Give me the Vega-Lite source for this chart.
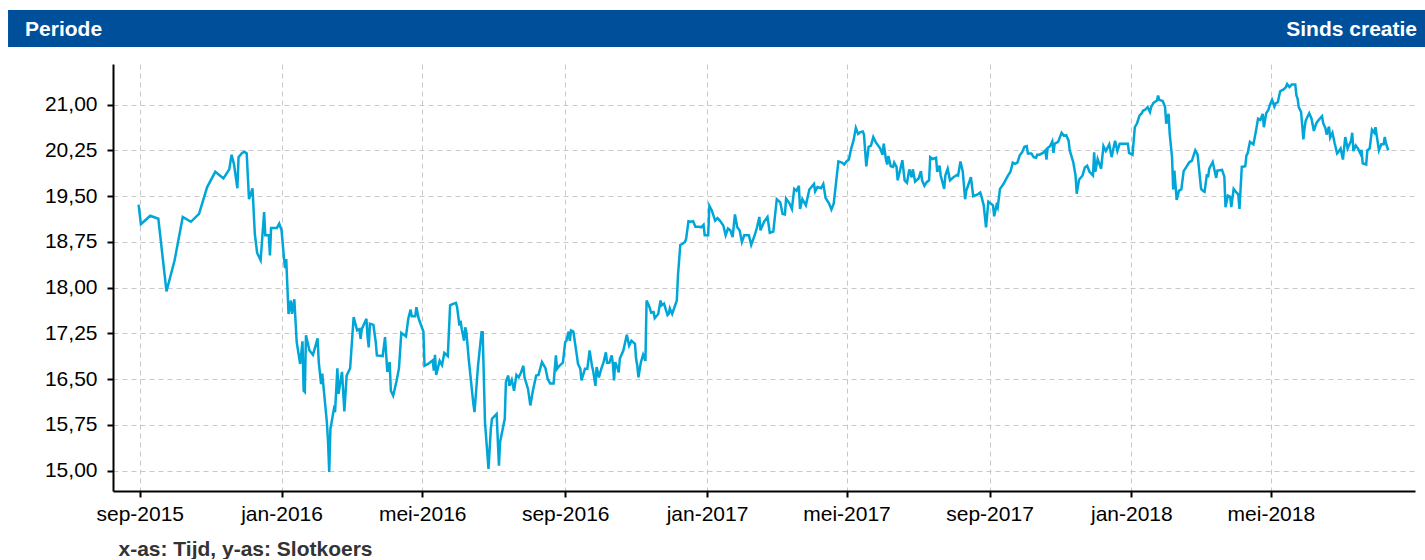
{
"$schema": "https://vega.github.io/schema/vega-lite/v6.json",
"padding": {"left": 8, "top": 10, "right": 0, "bottom": 0},
"spacing": 17,
"background": "white",
"config": {"view": {"stroke": null}, "font": "Liberation Sans"},
"vconcat": [
{
"width": 1312, "height": 37,
"view": {"stroke": null},
"data": {"values": [{"x0": -0.08, "x1": 1, "t1": "Periode", "t2": "Sinds creatie"}]},
"layer": [
{"mark": {"type": "rect", "fill": "#004f9b", "clip": false},
 "encoding": {"x": {"field": "x0", "type": "quantitative", "scale": {"domain": [0, 1], "nice": false, "zero": false}, "axis": null}, "x2": {"field": "x1"}}},
{"mark": {"type": "text", "align": "left", "dx": 17, "dy": 1, "font": "Liberation Sans", "fontWeight": "bold", "fontSize": 21, "fill": "white"},
 "encoding": {"x": {"field": "x0", "type": "quantitative"}, "text": {"field": "t1"}}},
{"mark": {"type": "text", "align": "right", "dx": -8, "dy": 1, "font": "Liberation Sans", "fontWeight": "bold", "fontSize": 21, "fill": "white"},
 "encoding": {"x": {"field": "x1", "type": "quantitative"}, "text": {"field": "t2"}}}
]
},
{
"width": 1302, "height": 427,
"view": {"stroke": null},
"data": {"format": {"parse": {"d": "date:'%Y-%m-%d'"}}, "values": [
{"d":"2015-08-31","v":19.36},{"d":"2015-09-02","v":19.04},{"d":"2015-09-10","v":19.18},{"d":"2015-09-17","v":19.13},{"d":"2015-09-24","v":17.94},{"d":"2015-10-01","v":18.45},{"d":"2015-10-08","v":19.16},{"d":"2015-10-15","v":19.08},{"d":"2015-10-22","v":19.21},{"d":"2015-10-29","v":19.65},{"d":"2015-11-05","v":19.90},{"d":"2015-11-12","v":19.79},{"d":"2015-11-17","v":19.94},{"d":"2015-11-19","v":20.18},{"d":"2015-11-21","v":20.03},{"d":"2015-11-24","v":19.63},{"d":"2015-11-25","v":20.14},{"d":"2015-11-28","v":20.21},{"d":"2015-11-30","v":20.23},{"d":"2015-12-02","v":20.20},{"d":"2015-12-04","v":19.45},{"d":"2015-12-07","v":19.63},{"d":"2015-12-09","v":18.88},{"d":"2015-12-11","v":18.57},{"d":"2015-12-14","v":18.45},{"d":"2015-12-17","v":19.24},{"d":"2015-12-18","v":18.86},{"d":"2015-12-21","v":18.86},{"d":"2015-12-22","v":18.53},{"d":"2015-12-23","v":18.98},{"d":"2015-12-28","v":18.98},{"d":"2015-12-30","v":19.05},
{"d":"2016-01-01","v":18.94},{"d":"2016-01-03","v":18.50},{"d":"2016-01-04","v":18.32},{"d":"2016-01-05","v":18.47},{"d":"2016-01-07","v":17.57},{"d":"2016-01-09","v":17.79},{"d":"2016-01-10","v":17.57},{"d":"2016-01-12","v":17.81},{"d":"2016-01-14","v":17.11},{"d":"2016-01-17","v":16.75},{"d":"2016-01-19","v":17.12},{"d":"2016-01-20","v":16.31},{"d":"2016-01-21","v":16.29},{"d":"2016-01-22","v":17.22},{"d":"2016-01-25","v":16.97},{"d":"2016-01-28","v":16.90},{"d":"2016-02-01","v":17.17},{"d":"2016-02-02","v":16.78},{"d":"2016-02-04","v":16.42},{"d":"2016-02-05","v":16.59},{"d":"2016-02-09","v":15.79},{"d":"2016-02-10","v":15.47},{"d":"2016-02-11","v":14.98},{"d":"2016-02-12","v":15.68},{"d":"2016-02-15","v":16.01},{"d":"2016-02-16","v":15.96},{"d":"2016-02-18","v":16.68},{"d":"2016-02-19","v":16.26},{"d":"2016-02-22","v":16.62},{"d":"2016-02-24","v":15.97},{"d":"2016-02-26","v":16.56},{"d":"2016-02-29","v":16.68},
{"d":"2016-03-03","v":17.52},{"d":"2016-03-06","v":17.30},{"d":"2016-03-08","v":17.32},{"d":"2016-03-09","v":17.16},{"d":"2016-03-10","v":17.32},{"d":"2016-03-14","v":17.49},{"d":"2016-03-15","v":17.19},{"d":"2016-03-16","v":17.02},{"d":"2016-03-17","v":17.41},{"d":"2016-03-20","v":17.39},{"d":"2016-03-22","v":17.11},{"d":"2016-03-23","v":16.89},{"d":"2016-03-28","v":16.88},{"d":"2016-03-30","v":17.19},{"d":"2016-04-01","v":16.62},{"d":"2016-04-03","v":16.78},{"d":"2016-04-04","v":16.31},{"d":"2016-04-06","v":16.23},{"d":"2016-04-09","v":16.48},{"d":"2016-04-11","v":16.68},{"d":"2016-04-13","v":17.26},{"d":"2016-04-17","v":17.20},{"d":"2016-04-19","v":17.49},{"d":"2016-04-21","v":17.64},{"d":"2016-04-22","v":17.53},{"d":"2016-04-25","v":17.53},{"d":"2016-04-26","v":17.68},{"d":"2016-04-28","v":17.49},{"d":"2016-05-02","v":17.28},{"d":"2016-05-03","v":16.72},{"d":"2016-05-06","v":16.75},{"d":"2016-05-10","v":16.81},{"d":"2016-05-11","v":16.64},{"d":"2016-05-12","v":16.90},{"d":"2016-05-13","v":16.57},{"d":"2016-05-16","v":16.80},{"d":"2016-05-18","v":16.73},{"d":"2016-05-20","v":16.93},{"d":"2016-05-23","v":16.88},{"d":"2016-05-25","v":17.71},{"d":"2016-05-27","v":17.73},{"d":"2016-05-30","v":17.75},{"d":"2016-05-31","v":17.68},
{"d":"2016-06-02","v":17.38},{"d":"2016-06-03","v":17.46},{"d":"2016-06-04","v":17.32},{"d":"2016-06-06","v":17.13},{"d":"2016-06-07","v":17.35},{"d":"2016-06-08","v":17.27},{"d":"2016-06-10","v":16.83},{"d":"2016-06-14","v":16.09},{"d":"2016-06-15","v":15.96},{"d":"2016-06-18","v":16.72},{"d":"2016-06-21","v":17.27},{"d":"2016-06-22","v":17.27},{"d":"2016-06-24","v":15.79},{"d":"2016-06-27","v":15.03},{"d":"2016-06-29","v":15.68},{"d":"2016-06-30","v":15.85},{"d":"2016-07-04","v":15.93},{"d":"2016-07-06","v":15.08},{"d":"2016-07-07","v":15.47},{"d":"2016-07-11","v":15.85},{"d":"2016-07-12","v":16.46},{"d":"2016-07-14","v":16.56},{"d":"2016-07-15","v":16.39},{"d":"2016-07-17","v":16.49},{"d":"2016-07-19","v":16.31},{"d":"2016-07-21","v":16.57},{"d":"2016-07-23","v":16.53},{"d":"2016-07-25","v":16.61},{"d":"2016-07-27","v":16.72},{"d":"2016-07-28","v":16.53},{"d":"2016-07-31","v":16.34},{"d":"2016-08-02","v":16.07},{"d":"2016-08-04","v":16.29},{"d":"2016-08-07","v":16.56},{"d":"2016-08-09","v":16.57},{"d":"2016-08-12","v":16.78},{"d":"2016-08-15","v":16.68},{"d":"2016-08-17","v":16.50},{"d":"2016-08-19","v":16.43},{"d":"2016-08-22","v":16.43},{"d":"2016-08-24","v":16.89},{"d":"2016-08-25","v":16.67},{"d":"2016-08-27","v":16.72},{"d":"2016-08-30","v":16.77},
{"d":"2016-09-01","v":17.11},{"d":"2016-09-02","v":17.13},{"d":"2016-09-04","v":17.28},{"d":"2016-09-05","v":17.13},{"d":"2016-09-06","v":17.30},{"d":"2016-09-08","v":17.28},{"d":"2016-09-11","v":16.89},{"d":"2016-09-12","v":16.75},{"d":"2016-09-14","v":16.67},{"d":"2016-09-15","v":16.48},{"d":"2016-09-18","v":16.67},{"d":"2016-09-20","v":16.67},{"d":"2016-09-22","v":16.97},{"d":"2016-09-24","v":16.72},{"d":"2016-09-25","v":16.64},{"d":"2016-09-27","v":16.39},{"d":"2016-09-28","v":16.70},{"d":"2016-09-30","v":16.53},{"d":"2016-10-02","v":16.67},{"d":"2016-10-04","v":16.78},{"d":"2016-10-06","v":16.94},{"d":"2016-10-07","v":16.77},{"d":"2016-10-09","v":16.77},{"d":"2016-10-11","v":16.89},{"d":"2016-10-12","v":16.75},{"d":"2016-10-13","v":16.48},{"d":"2016-10-14","v":16.78},{"d":"2016-10-16","v":16.68},{"d":"2016-10-17","v":16.61},{"d":"2016-10-18","v":16.84},{"d":"2016-10-21","v":16.97},{"d":"2016-10-24","v":17.23},{"d":"2016-10-26","v":17.05},{"d":"2016-10-28","v":17.13},{"d":"2016-10-31","v":17.08},{"d":"2016-11-01","v":16.83},{"d":"2016-11-02","v":16.72},{"d":"2016-11-03","v":16.53},{"d":"2016-11-05","v":16.77},{"d":"2016-11-07","v":16.90},{"d":"2016-11-09","v":16.80},{"d":"2016-11-10","v":17.79},{"d":"2016-11-12","v":17.71},{"d":"2016-11-14","v":17.59},{"d":"2016-11-16","v":17.60},{"d":"2016-11-17","v":17.50},{"d":"2016-11-20","v":17.57},{"d":"2016-11-22","v":17.79},{"d":"2016-11-23","v":17.71},{"d":"2016-11-25","v":17.74},{"d":"2016-11-28","v":17.55},{"d":"2016-11-29","v":17.57},{"d":"2016-11-30","v":17.66},{"d":"2016-12-02","v":17.57},{"d":"2016-12-06","v":17.79},{"d":"2016-12-07","v":18.20},{"d":"2016-12-09","v":18.70},{"d":"2016-12-11","v":18.72},{"d":"2016-12-13","v":18.75},{"d":"2016-12-14","v":18.80},{"d":"2016-12-16","v":19.09},{"d":"2016-12-18","v":19.08},{"d":"2016-12-20","v":19.09},{"d":"2016-12-22","v":19.00},{"d":"2016-12-25","v":19.00},{"d":"2016-12-27","v":18.99},{"d":"2016-12-29","v":19.03},{"d":"2016-12-30","v":18.86},
{"d":"2017-01-02","v":18.86},{"d":"2017-01-03","v":19.34},{"d":"2017-01-05","v":19.27},{"d":"2017-01-08","v":19.10},{"d":"2017-01-10","v":19.14},{"d":"2017-01-12","v":19.10},{"d":"2017-01-15","v":19.02},{"d":"2017-01-17","v":18.86},{"d":"2017-01-19","v":18.97},{"d":"2017-01-21","v":18.94},{"d":"2017-01-23","v":18.83},{"d":"2017-01-25","v":19.20},{"d":"2017-01-27","v":18.99},{"d":"2017-01-29","v":18.94},{"d":"2017-01-31","v":18.75},{"d":"2017-02-02","v":18.86},{"d":"2017-02-06","v":18.86},{"d":"2017-02-08","v":18.70},{"d":"2017-02-11","v":18.86},{"d":"2017-02-13","v":18.99},{"d":"2017-02-15","v":19.16},{"d":"2017-02-16","v":18.94},{"d":"2017-02-19","v":19.08},{"d":"2017-02-22","v":19.16},{"d":"2017-02-24","v":18.90},{"d":"2017-02-27","v":18.92},
{"d":"2017-03-02","v":19.45},{"d":"2017-03-05","v":19.40},{"d":"2017-03-07","v":19.21},{"d":"2017-03-09","v":19.20},{"d":"2017-03-10","v":19.46},{"d":"2017-03-13","v":19.38},{"d":"2017-03-15","v":19.29},{"d":"2017-03-17","v":19.62},{"d":"2017-03-19","v":19.59},{"d":"2017-03-21","v":19.67},{"d":"2017-03-22","v":19.29},{"d":"2017-03-24","v":19.45},{"d":"2017-03-27","v":19.35},{"d":"2017-03-30","v":19.61},{"d":"2017-04-03","v":19.70},{"d":"2017-04-04","v":19.58},{"d":"2017-04-06","v":19.65},{"d":"2017-04-09","v":19.63},{"d":"2017-04-11","v":19.70},{"d":"2017-04-13","v":19.47},{"d":"2017-04-16","v":19.38},{"d":"2017-04-18","v":19.28},{"d":"2017-04-20","v":19.38},{"d":"2017-04-24","v":20.07},{"d":"2017-04-27","v":20.05},{"d":"2017-04-29","v":20.02},{"d":"2017-05-01","v":20.07},{"d":"2017-05-03","v":20.10},{"d":"2017-05-05","v":20.28},{"d":"2017-05-07","v":20.41},{"d":"2017-05-09","v":20.62},{"d":"2017-05-11","v":20.52},{"d":"2017-05-13","v":20.55},{"d":"2017-05-15","v":20.56},{"d":"2017-05-16","v":20.51},{"d":"2017-05-18","v":19.99},{"d":"2017-05-20","v":20.31},{"d":"2017-05-22","v":20.33},{"d":"2017-05-24","v":20.47},{"d":"2017-05-26","v":20.39},{"d":"2017-05-30","v":20.28},{"d":"2017-06-01","v":20.18},{"d":"2017-06-02","v":20.36},{"d":"2017-06-04","v":20.09},{"d":"2017-06-05","v":20.02},{"d":"2017-06-06","v":20.16},{"d":"2017-06-08","v":19.99},{"d":"2017-06-10","v":19.98},{"d":"2017-06-11","v":20.05},{"d":"2017-06-13","v":19.98},{"d":"2017-06-14","v":19.76},{"d":"2017-06-16","v":19.92},{"d":"2017-06-18","v":20.09},{"d":"2017-06-20","v":19.76},{"d":"2017-06-22","v":19.72},{"d":"2017-06-24","v":19.94},{"d":"2017-06-26","v":19.81},{"d":"2017-06-27","v":19.94},{"d":"2017-06-29","v":19.74},
{"d":"2017-07-02","v":19.79},{"d":"2017-07-04","v":19.91},{"d":"2017-07-05","v":19.76},{"d":"2017-07-07","v":19.67},{"d":"2017-07-09","v":19.73},{"d":"2017-07-11","v":19.76},{"d":"2017-07-12","v":20.14},{"d":"2017-07-14","v":20.11},{"d":"2017-07-17","v":20.13},{"d":"2017-07-18","v":19.90},{"d":"2017-07-20","v":20.00},{"d":"2017-07-21","v":19.84},{"d":"2017-07-24","v":19.62},{"d":"2017-07-25","v":19.84},{"d":"2017-07-27","v":19.95},{"d":"2017-07-29","v":19.76},{"d":"2017-08-01","v":19.81},{"d":"2017-08-04","v":19.85},{"d":"2017-08-05","v":19.84},{"d":"2017-08-07","v":20.07},{"d":"2017-08-09","v":19.90},{"d":"2017-08-11","v":19.45},{"d":"2017-08-12","v":19.59},{"d":"2017-08-14","v":19.70},{"d":"2017-08-16","v":19.81},{"d":"2017-08-18","v":19.50},{"d":"2017-08-21","v":19.52},{"d":"2017-08-24","v":19.56},{"d":"2017-08-25","v":19.50},{"d":"2017-08-27","v":19.35},{"d":"2017-08-29","v":18.99},{"d":"2017-08-31","v":19.41},{"d":"2017-09-02","v":19.38},{"d":"2017-09-04","v":19.35},{"d":"2017-09-05","v":19.17},{"d":"2017-09-07","v":19.35},{"d":"2017-09-08","v":19.31},{"d":"2017-09-10","v":19.62},{"d":"2017-09-13","v":19.70},{"d":"2017-09-15","v":19.77},{"d":"2017-09-17","v":19.84},{"d":"2017-09-19","v":19.90},{"d":"2017-09-21","v":20.05},{"d":"2017-09-23","v":20.03},{"d":"2017-09-25","v":20.05},{"d":"2017-09-27","v":20.17},{"d":"2017-09-29","v":20.22},{"d":"2017-10-01","v":20.31},{"d":"2017-10-03","v":20.32},{"d":"2017-10-04","v":20.20},{"d":"2017-10-07","v":20.20},{"d":"2017-10-09","v":20.14},{"d":"2017-10-11","v":20.13},{"d":"2017-10-12","v":20.18},{"d":"2017-10-14","v":20.18},{"d":"2017-10-17","v":20.21},{"d":"2017-10-19","v":20.25},{"d":"2017-10-20","v":20.10},{"d":"2017-10-21","v":20.29},{"d":"2017-10-23","v":20.32},{"d":"2017-10-25","v":20.40},{"d":"2017-10-26","v":20.21},{"d":"2017-10-27","v":20.36},{"d":"2017-10-30","v":20.39},{"d":"2017-11-02","v":20.54},{"d":"2017-11-04","v":20.49},{"d":"2017-11-06","v":20.50},{"d":"2017-11-08","v":20.41},{"d":"2017-11-09","v":20.25},{"d":"2017-11-12","v":20.06},{"d":"2017-11-14","v":19.84},{"d":"2017-11-15","v":19.54},{"d":"2017-11-17","v":19.77},{"d":"2017-11-20","v":19.84},{"d":"2017-11-22","v":19.97},{"d":"2017-11-24","v":20.00},{"d":"2017-11-26","v":19.90},{"d":"2017-11-29","v":19.84},{"d":"2017-11-30","v":20.22},{"d":"2017-12-01","v":19.90},{"d":"2017-12-03","v":20.11},{"d":"2017-12-06","v":19.95},{"d":"2017-12-08","v":20.32},{"d":"2017-12-10","v":20.24},{"d":"2017-12-13","v":20.35},{"d":"2017-12-15","v":20.14},{"d":"2017-12-18","v":20.41},{"d":"2017-12-20","v":20.24},{"d":"2017-12-22","v":20.36},{"d":"2017-12-29","v":20.36},{"d":"2017-12-30","v":20.21},
{"d":"2018-01-02","v":20.18},{"d":"2018-01-04","v":20.63},{"d":"2018-01-06","v":20.70},{"d":"2018-01-08","v":20.82},{"d":"2018-01-10","v":20.86},{"d":"2018-01-11","v":20.90},{"d":"2018-01-13","v":20.92},{"d":"2018-01-15","v":20.96},{"d":"2018-01-17","v":20.88},{"d":"2018-01-18","v":20.96},{"d":"2018-01-20","v":21.03},{"d":"2018-01-23","v":21.07},{"d":"2018-01-24","v":21.15},{"d":"2018-01-25","v":21.08},{"d":"2018-01-28","v":21.06},{"d":"2018-01-30","v":20.96},{"d":"2018-01-31","v":20.69},{"d":"2018-02-02","v":20.85},{"d":"2018-02-03","v":20.52},{"d":"2018-02-05","v":20.14},{"d":"2018-02-06","v":19.61},{"d":"2018-02-07","v":19.92},{"d":"2018-02-09","v":19.44},{"d":"2018-02-11","v":19.59},{"d":"2018-02-13","v":19.61},{"d":"2018-02-15","v":19.91},{"d":"2018-02-18","v":20.00},{"d":"2018-02-20","v":20.06},{"d":"2018-02-22","v":20.08},{"d":"2018-02-25","v":20.25},{"d":"2018-02-27","v":20.18},{"d":"2018-03-02","v":19.62},{"d":"2018-03-04","v":19.58},{"d":"2018-03-05","v":19.57},{"d":"2018-03-07","v":19.86},{"d":"2018-03-08","v":19.81},{"d":"2018-03-09","v":19.95},{"d":"2018-03-12","v":20.06},{"d":"2018-03-15","v":19.80},{"d":"2018-03-16","v":19.92},{"d":"2018-03-20","v":19.93},{"d":"2018-03-22","v":19.82},{"d":"2018-03-23","v":19.32},{"d":"2018-03-25","v":19.51},{"d":"2018-03-27","v":19.49},{"d":"2018-03-28","v":19.32},{"d":"2018-03-30","v":19.62},{"d":"2018-04-01","v":19.57},{"d":"2018-04-03","v":19.53},{"d":"2018-04-04","v":19.29},{"d":"2018-04-06","v":19.98},{"d":"2018-04-09","v":19.99},{"d":"2018-04-10","v":20.17},{"d":"2018-04-11","v":20.20},{"d":"2018-04-13","v":20.39},{"d":"2018-04-16","v":20.35},{"d":"2018-04-18","v":20.55},{"d":"2018-04-20","v":20.77},{"d":"2018-04-22","v":20.75},{"d":"2018-04-24","v":20.85},{"d":"2018-04-25","v":20.63},{"d":"2018-04-27","v":20.86},{"d":"2018-04-29","v":20.92},{"d":"2018-04-30","v":20.99},
{"d":"2018-05-02","v":21.08},{"d":"2018-05-04","v":20.97},{"d":"2018-05-05","v":21.02},{"d":"2018-05-07","v":21.04},{"d":"2018-05-09","v":21.22},{"d":"2018-05-12","v":21.25},{"d":"2018-05-14","v":21.29},{"d":"2018-05-15","v":21.34},{"d":"2018-05-17","v":21.29},{"d":"2018-05-19","v":21.33},{"d":"2018-05-22","v":21.33},{"d":"2018-05-23","v":21.15},{"d":"2018-05-24","v":21.10},{"d":"2018-05-25","v":20.96},{"d":"2018-05-27","v":20.88},{"d":"2018-05-29","v":20.43},{"d":"2018-05-30","v":20.62},{"d":"2018-05-31","v":20.74},{"d":"2018-06-03","v":20.86},{"d":"2018-06-05","v":20.77},{"d":"2018-06-07","v":20.57},{"d":"2018-06-09","v":20.69},{"d":"2018-06-10","v":20.72},{"d":"2018-06-12","v":20.77},{"d":"2018-06-14","v":20.81},{"d":"2018-06-15","v":20.70},{"d":"2018-06-17","v":20.61},{"d":"2018-06-18","v":20.51},{"d":"2018-06-20","v":20.64},{"d":"2018-06-21","v":20.46},{"d":"2018-06-23","v":20.54},{"d":"2018-06-25","v":20.36},{"d":"2018-06-27","v":20.20},{"d":"2018-06-28","v":20.22},{"d":"2018-06-30","v":20.28},{"d":"2018-07-02","v":20.10},{"d":"2018-07-04","v":20.47},{"d":"2018-07-06","v":20.28},{"d":"2018-07-09","v":20.41},{"d":"2018-07-10","v":20.54},{"d":"2018-07-11","v":20.24},{"d":"2018-07-13","v":20.33},{"d":"2018-07-15","v":20.28},{"d":"2018-07-17","v":20.20},{"d":"2018-07-18","v":20.26},{"d":"2018-07-19","v":20.04},{"d":"2018-07-22","v":20.02},{"d":"2018-07-23","v":20.25},{"d":"2018-07-25","v":20.28},{"d":"2018-07-27","v":20.59},{"d":"2018-07-29","v":20.54},{"d":"2018-07-30","v":20.63},{"d":"2018-08-02","v":20.25},{"d":"2018-08-04","v":20.35},{"d":"2018-08-06","v":20.35},{"d":"2018-08-07","v":20.47},{"d":"2018-08-08","v":20.37},{"d":"2018-08-10","v":20.25}
]},
"mark": {"type": "line", "color": "#00a6d8", "strokeWidth": 2.5},
"encoding": {
"x": {"field": "d", "type": "temporal",
 "scale": {"domain": [{"year": 2015, "month": 8, "date": 9}, {"year": 2018, "month": 9, "date": 2}]},
 "axis": {
  "values": [{"year": 2015, "month": 9, "date": 1}, {"year": 2016, "month": 1, "date": 1}, {"year": 2016, "month": 5, "date": 1}, {"year": 2016, "month": 9, "date": 1}, {"year": 2017, "month": 1, "date": 1}, {"year": 2017, "month": 5, "date": 1}, {"year": 2017, "month": 9, "date": 1}, {"year": 2018, "month": 1, "date": 1}, {"year": 2018, "month": 5, "date": 1}],
  "labelExpr": "['jan','feb','mrt','apr','mei','jun','jul','aug','sep','okt','nov','dec'][month(datum.value)] + '-' + year(datum.value)",
  "labelFont": "Liberation Sans", "labelFontSize": 21, "labelColor": "#000", "labelPadding": 6,
  "domainColor": "#000", "domainWidth": 2, "tickColor": "#000", "tickWidth": 2, "tickSize": 6,
  "grid": true, "gridColor": "#c8c8c8", "gridDash": [5, 4], "gridWidth": 1,
  "title": "x-as: Tijd, y-as: Slotkoers", "titleFont": "Liberation Sans", "titleFontSize": 21, "titleFontWeight": "bold", "titleColor": "#333333",
  "titleAnchor": "start", "titleAlign": "left", "titleBaseline": "alphabetic", "titleX": 5, "titleY": 64,
  "labelOverlap": false, "labelFlush": false
 }},
"y": {"field": "v", "type": "quantitative",
 "scale": {"domain": [14.667, 21.667], "nice": false, "zero": false},
 "axis": {
  "values": [15, 15.75, 16.5, 17.25, 18, 18.75, 19.5, 20.25, 21],
  "labelExpr": "replace(format(datum.value, '.2f'), '.', ',')",
  "labelFont": "Liberation Sans", "labelFontSize": 21, "labelColor": "#000", "labelPadding": 10,
  "domainColor": "#000", "domainWidth": 2, "tickColor": "#000", "tickWidth": 2, "tickSize": 6,
  "grid": true, "gridColor": "#c8c8c8", "gridDash": [5, 4], "gridWidth": 1,
  "title": null, "minExtent": 105, "labelOverlap": false
 }}
}
}
]
}
